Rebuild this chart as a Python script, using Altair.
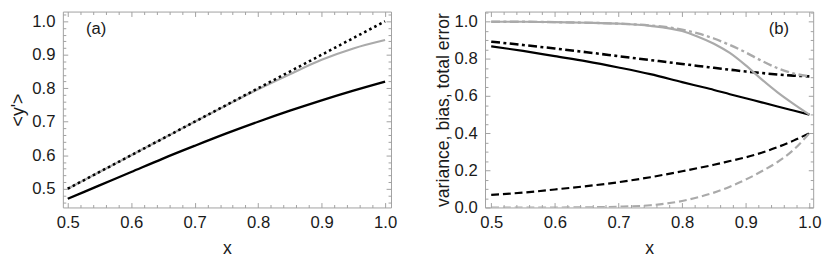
import altair as alt
import pandas as pd

# ---------------- data ----------------
xa = [0.5, 0.55, 0.6, 0.65, 0.7, 0.75, 0.8, 0.85, 0.9, 0.95, 1.0]
a_dotted = [0.5, 0.55, 0.6, 0.65, 0.7, 0.75, 0.8, 0.85, 0.9, 0.95, 1.0]
a_gray = [0.5, 0.55, 0.6, 0.65, 0.7, 0.749, 0.797, 0.842, 0.885, 0.919, 0.944]
a_black = [0.47, 0.51, 0.55, 0.59, 0.628, 0.665, 0.70, 0.733, 0.764, 0.793, 0.82]

xb = [0.5, 0.55, 0.6, 0.65, 0.7, 0.75, 0.8, 0.825, 0.85, 0.875, 0.9, 0.925, 0.95, 0.975, 1.0]
b_black_solid = [0.868, 0.843, 0.815, 0.787, 0.754, 0.718, 0.675, 0.654, 0.633, 0.61, 0.588,
                 0.566, 0.544, 0.522, 0.5]
b_black_dashdot = [0.893, 0.875, 0.856, 0.836, 0.815, 0.794, 0.773, 0.762, 0.752, 0.742, 0.732,
                   0.724, 0.716, 0.71, 0.706]
b_black_dashed = [0.068, 0.08, 0.097, 0.115, 0.136, 0.163, 0.195, 0.212, 0.23, 0.25, 0.27,
                  0.295, 0.325, 0.36, 0.40]
b_gray_dashed = [0.0, 0.0, 0.0, 0.001, 0.004, 0.012, 0.035, 0.055, 0.08, 0.112, 0.15,
                 0.195, 0.245, 0.31, 0.40]
b_gray_solid = [1.0, 1.0, 0.998, 0.995, 0.99, 0.978, 0.95, 0.92, 0.882, 0.832, 0.765,
                0.69, 0.62, 0.558, 0.5]
b_gray_dashdot = [1.0, 1.0, 0.998, 0.995, 0.99, 0.98, 0.958, 0.937, 0.91, 0.875, 0.835,
                  0.79, 0.75, 0.722, 0.707]

x_major = [0.5, 0.6, 0.7, 0.8, 0.9, 1.0]
x_minor = [0.52, 0.54, 0.56, 0.58, 0.62, 0.64, 0.66, 0.68, 0.72, 0.74, 0.76, 0.78,
           0.82, 0.84, 0.86, 0.88, 0.92, 0.94, 0.96, 0.98]
ya_major = [0.5, 0.6, 0.7, 0.8, 0.9, 1.0]
ya_minor = [0.46, 0.48, 0.52, 0.54, 0.56, 0.58, 0.62, 0.64, 0.66, 0.68, 0.72, 0.74,
            0.76, 0.78, 0.82, 0.84, 0.86, 0.88, 0.92, 0.94, 0.96, 0.98, 1.02]
yb_major = [0.0, 0.2, 0.4, 0.6, 0.8, 1.0]
yb_minor = [0.05, 0.1, 0.15, 0.25, 0.3, 0.35, 0.45, 0.5, 0.55, 0.65, 0.7, 0.75,
            0.85, 0.9, 0.95, 1.05]

# ---------------- styling ----------------
FONT = "Liberation Sans"
TXT = "#1a1a1a"
GRAY = "#aaaaaa"
FRAME = "#a0a0a0"
W, H = 335, 200


def panel(x, series, xdom, ydom, ymaj, ymin, ytitle, label, label_pos, ytitle_pad):
    df = pd.DataFrame({"x": x})
    for name, vals, *_ in series:
        df[name] = vals
    xs = alt.Scale(domain=xdom, nice=False, zero=False)
    ys = alt.Scale(domain=ydom, nice=False, zero=False)
    first = series[0][0]

    layers = []
    for i, (name, vals, color, width, dash) in enumerate(series):
        kw = dict(color=color, strokeWidth=width, interpolate="monotone", clip=True)
        if dash:
            kw["strokeDash"] = dash
        if i == 0:
            xax = alt.Axis(orient="bottom", values=x_major, format=".1f", ticks=False,
                           domain=False, grid=False, labelPadding=7, title="x",
                           titlePadding=10)
            yax = alt.Axis(orient="left", values=ymaj, format=".1f", ticks=False,
                           domain=False, grid=False, labelPadding=8, title=ytitle,
                           titlePadding=ytitle_pad)
        else:
            xax = None
            yax = None
        layers.append(
            alt.Chart(df).mark_line(**kw).encode(
                x=alt.X("x:Q", scale=xs, axis=xax),
                y=alt.Y(f"{name}:Q", scale=ys, axis=yax),
            )
        )

    # inward ticks on all four sides of the frame
    def tick_layer(xorient, yorient, xvals, yvals, size):
        common = dict(labels=False, domain=False, grid=False, ticks=True,
                      tickSize=size, tickColor=FRAME, tickWidth=1, title=None)
        return alt.Chart(df).mark_line(strokeOpacity=0).encode(
            x=alt.X("x:Q", scale=xs,
                    axis=alt.Axis(orient=xorient, offset=-H, values=xvals, **common)),
            y=alt.Y(f"{first}:Q", scale=ys,
                    axis=alt.Axis(orient=yorient, offset=-W, values=yvals, **common)),
        )

    layers.append(tick_layer("top", "right", x_major, ymaj, 5))
    layers.append(tick_layer("top", "right", x_minor, ymin, 3))
    layers.append(tick_layer("bottom", "left", x_major, ymaj, 5))
    layers.append(tick_layer("bottom", "left", x_minor, ymin, 3))

    lab = alt.Chart(pd.DataFrame({"t": [label]})).mark_text(
        font=FONT, fontSize=17, color=TXT, align="center", baseline="middle"
    ).encode(x=alt.value(label_pos[0]), y=alt.value(label_pos[1]), text="t:N")
    layers.append(lab)

    return alt.layer(*layers).resolve_axis(x="independent", y="independent").properties(
        width=W, height=H
    )


left = panel(
    xa,
    [
        ("black", a_black, "#000000", 2.4, None),
        ("gray", a_gray, GRAY, 2.2, None),
        ("dotted", a_dotted, "#000000", 2.6, [2.6, 3.2]),
    ],
    [0.4923, 1.0093], [0.444, 1.029], ya_major, ya_minor, "<y'>", "(a)", (34, 18), 5,
)

right = panel(
    xb,
    [
        ("bsolid", b_black_solid, "#000000", 2.2, None),
        ("bdashdot", b_black_dashdot, "#000000", 2.6, [9, 3.5, 3, 3.5]),
        ("bdashed", b_black_dashed, "#000000", 2.2, [8, 4]),
        ("gdashed", b_gray_dashed, GRAY, 2.2, [8, 4]),
        ("gsolid", b_gray_solid, GRAY, 2.2, None),
        ("gdashdot", b_gray_dashdot, GRAY, 2.4, [9, 3.5, 3, 3.5]),
    ],
    [0.4903, 1.006], [0.0, 1.055], yb_major, yb_minor, "variance, bias, total error",
    "(b)", (300, 18), 2,
)

chart = alt.hconcat(left, right, spacing=96).properties(
    bounds="flush", padding={"left": 0, "top": 0, "right": 0, "bottom": 0}
).configure_view(stroke=FRAME, strokeWidth=1).configure_axis(
    labelFont=FONT, labelFontSize=17, labelColor=TXT,
    titleFont=FONT, titleFontSize=18, titleColor=TXT, titleFontWeight="normal",
)

chart.save("out.html", embed_options={"renderer": "svg", "actions": False})
